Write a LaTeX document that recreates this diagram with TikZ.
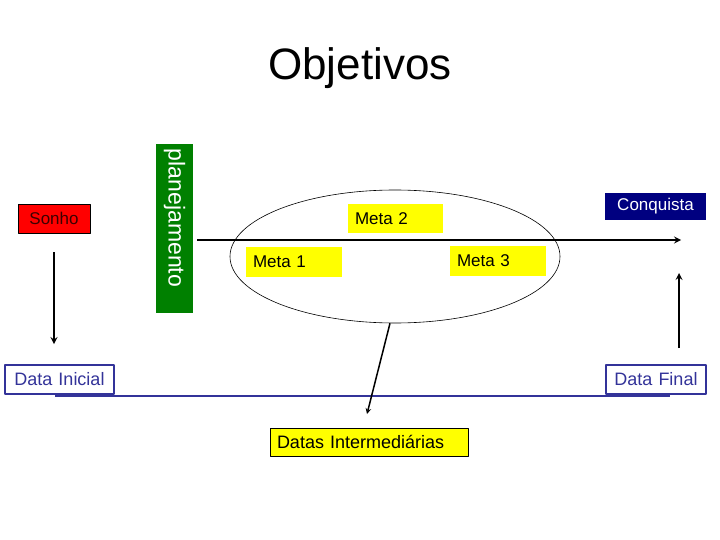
\documentclass[tikz,border=0pt]{standalone}
\usepackage{fontspec}
\setmainfont{Liberation Sans}
\usetikzlibrary{shapes.geometric}
\definecolor{azulmarinho}{RGB}{0,0,128}
\definecolor{azuldata}{RGB}{51,51,153}
\definecolor{verdeplan}{RGB}{0,128,0}
\definecolor{vermelho}{RGB}{255,0,0}
\definecolor{amarelo}{RGB}{255,255,0}
\definecolor{sonhotxt}{RGB}{60,0,0}
\begin{document}
\begin{tikzpicture}[x=1pt, y=-1pt, line join=round, >=stealth,
	caixa/.style={rectangle, inner xsep=7pt, inner ysep=0pt, align=left, font=\fontsize{17}{20}\selectfont},
	meta/.style={caixa, fill=amarelo},
	data/.style={caixa, draw=azuldata, line width=1.5pt, fill=white, text=azuldata, align=center, font=\fontsize{18}{20}\selectfont},
	seta/.style={->, line width=2pt}]
	\useasboundingbox (0,0) rectangle (720,540);
	\node[font=\fontsize{44}{50}\selectfont] (titulo) at (360,68) {Objetivos};
	% lado esquerdo
	\node[caixa, fill=vermelho, draw=black, line width=0.6pt, text=sonhotxt, align=center, text width=58pt, minimum height=29pt] (sonho) at (54,218.5) {Sonho};
	\node[rotate=-90, fill=verdeplan, text=white, text width=159pt, minimum height=37pt, inner xsep=5pt, inner ysep=0pt, align=left, font=\fontsize{23}{26}\selectfont] (plan) at (174.5,228.5) {planejamento};
	\coordinate (sonhoIni) at (54,252); \coordinate (sonhoFim) at (54,344);
	\draw[seta] (sonhoIni)--(sonhoFim);
	% linha do tempo
	\coordinate (linhaIni) at (55,396); \coordinate (linhaFim) at (670,396);
	\draw[azuldata, line width=2pt] (linhaIni)--(linhaFim);
	\node[data, text width=95pt, minimum height=29pt] (dataini) at (59.5,379.5) {Data Inicial};
	\node[data, text width=86pt, minimum height=29pt] (datafim) at (656,379.5) {Data Final};
	% metas
	\node[ellipse, draw, line width=0.6pt, minimum width=330pt, minimum height=133pt, inner sep=0pt] (grupo) at (395,256.5) {};
	\coordinate (eixoIni) at (197,240); \coordinate (eixoFim) at (681,240);
	\draw[seta] (eixoIni)--(eixoFim);
	\node[meta, text width=81pt, minimum height=29pt] (meta2) at (395.5,218.5) {Meta 2};
	\node[meta, text width=82pt, minimum height=30pt] (meta1) at (294,262) {Meta 1};
	\node[meta, text width=82pt, minimum height=30pt] (meta3) at (498,261) {Meta 3};
	\node[caixa, fill=azulmarinho, text=white, align=center, text width=87pt, minimum height=27pt] (conquista) at (655.5,206.5) {Conquista};
	\coordinate (fimIni) at (679,348); \coordinate (fimFim) at (679,273);
	\draw[seta] (fimIni)--(fimFim);
	% datas intermediarias
	\node[meta, draw=black, line width=0.6pt, text width=184pt, minimum height=28pt, font=\fontsize{18}{20}\selectfont] (inter) at (369,442) {Datas Intermediárias};
	\coordinate (interPonta) at (367,414);
	\draw[->, line width=1.5pt] ([xshift=-5pt]grupo.south)--(interPonta);
\end{tikzpicture}
\end{document}
